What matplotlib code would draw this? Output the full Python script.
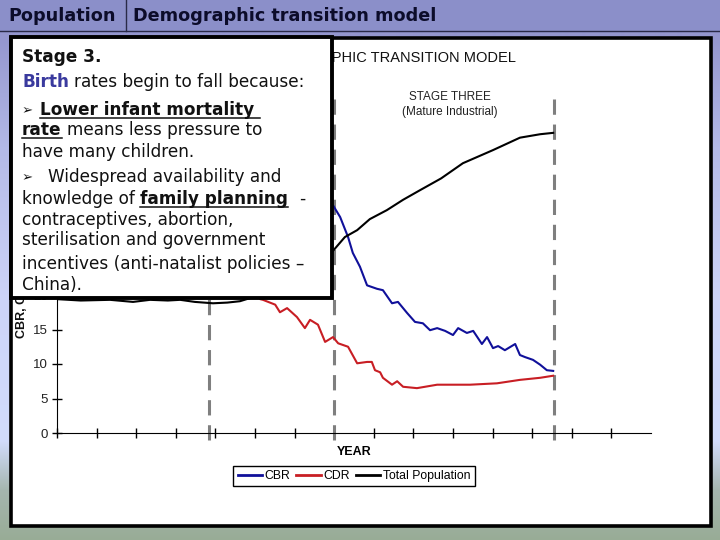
import numpy as np
import matplotlib
matplotlib.use("Agg")
from matplotlib import pyplot as plt
from matplotlib.patches import Rectangle
from matplotlib.lines import Line2D

plt.rcParams['font.family'] = ['Liberation Sans', 'DejaVu Sans']

# stage boundaries on the year axis (axis runs 0..15, no year labels shown)
stage_lines = [3.85, 7.0, 12.55]

# crude birth rate (per 1000)
cbr_x = [0, 0.5, 1.0, 1.5, 2.0, 2.5, 3.0, 3.5, 4.0, 4.5, 5.0, 5.5, 6.0, 6.5,
         6.97, 7.15, 7.35, 7.47, 7.65, 7.83, 8.08, 8.23, 8.46, 8.61, 8.84,
         9.04, 9.24, 9.42, 9.60, 9.80, 10.0, 10.13, 10.35, 10.51, 10.73,
         10.86, 11.01, 11.14, 11.31, 11.57, 11.69, 11.82, 12.02, 12.20,
         12.37, 12.53]
cbr = [37.5, 38.2, 36.8, 37.9, 37.0, 38.1, 36.9, 37.6, 37.2, 36.8, 36.9, 36.2,
       35.5, 34.4, 33.0, 31.3, 28.4, 26.1, 24.1, 21.4, 20.9, 20.7, 18.8, 19.0,
       17.4, 16.1, 15.9, 14.9, 15.2, 14.8, 14.2, 15.2, 14.5, 14.8, 12.9, 13.9,
       12.3, 12.6, 12.0, 12.9, 11.3, 11.0, 10.6, 9.9, 9.1, 9.0]

# crude death rate (per 1000)
cdr_x = [0, 0.5, 1.0, 1.5, 2.0, 2.5, 3.0, 3.5, 3.85, 4.2, 4.6, 4.9,
         5.13, 5.20, 5.51, 5.63, 5.81, 6.06, 6.26, 6.39, 6.59, 6.77, 6.97,
         7.10, 7.35, 7.58, 7.83, 7.95, 8.03, 8.16, 8.23, 8.46, 8.59, 8.74,
         9.09, 9.60, 10.43, 11.11, 11.69, 12.20, 12.53]
cdr = [35.0, 33.2, 36.1, 34.0, 35.6, 33.5, 35.2, 34.3, 33.8, 29.0, 24.5, 21.3,
       19.4, 19.3, 18.6, 17.5, 18.1, 16.8, 15.2, 16.4, 15.7, 13.2, 13.9,
       13.0, 12.5, 10.1, 10.3, 10.3, 9.1, 8.8, 8.0, 7.0, 7.5, 6.7,
       6.5, 7.0, 7.0, 7.2, 7.7, 8.0, 8.3]

# total population (relative)
pop_x = [0, 0.6, 1.34, 1.92, 2.35, 2.8, 3.11, 3.48, 3.94, 4.3, 4.62, 5.13,
         5.6, 6.1, 6.5, 6.97, 7.27, 7.58, 7.90, 8.33, 8.74, 9.17, 9.70,
         10.25, 11.01, 11.69, 12.2, 12.53]
pop = [19.4, 19.2, 19.3, 19.0, 19.3, 19.2, 19.3, 19.0, 18.8, 18.9, 19.1, 20.0,
       21.4, 23.2, 24.6, 26.4, 28.4, 29.4, 31.0, 32.3, 33.8, 35.2, 36.9,
       39.1, 41.0, 42.8, 43.3, 43.5]

series_names = ['CBR', 'CDR', 'Total Population']
series_colors = ['#10109a', '#c81e24', 'black']

fig = plt.figure(figsize=(7.2, 5.4), dpi=100)

# slide background, in pixel coordinates
bg = fig.add_axes([0, 0, 1, 1], zorder=-10)
bg.set_xlim(0, 720)
bg.set_ylim(540, 0)
bg.axis('off')
stop_y = [0, 36, 150, 300, 440, 490, 540]
stop_c = np.array([[148, 150, 206], [148, 150, 206], [180, 186, 232],
                   [205, 212, 248], [210, 220, 252], [165, 182, 175],
                   [152, 172, 150]]) / 255.0
rows = np.arange(540)
grad = np.stack([np.interp(rows, stop_y, stop_c[:, k]) for k in range(3)], axis=1)
bg.imshow(np.repeat(grad[:, None, :], 2, axis=1), extent=(0, 720, 540, 0),
          aspect='auto', interpolation='bilinear')
bg.add_patch(Rectangle((0, 0), 720, 30.5, color='#8b8fc9'))
bg.plot([0, 720], [30.5, 30.5], color='#2a2a48', lw=1)
bg.plot([126, 126], [0, 30.5], color='#2a2a48', lw=1)
bg.text(8, 21, 'Population', fontweight='bold', fontsize=12.7, color='#0c0c2a',
        family='DejaVu Sans', va='baseline')
bg.text(133, 21, 'Demographic transition model', fontweight='bold',
        fontsize=12.7, color='#0c0c2a', family='DejaVu Sans', va='baseline')
bg.add_patch(Rectangle((10.5, 37.5), 700, 488, fc='white', ec='black', lw=2.6))
bg.text(516, 62, 'DEMOGRAPHIC TRANSITION MODEL', ha='right', va='baseline',
        fontsize=10.5, color='#111111')
bg.text(22, 338, 'CBR, CDR (per 1000)', rotation=90, rotation_mode='anchor',
        ha='left', va='center', fontweight='bold', fontsize=9, color='#111111')

# the chart
ax = fig.add_axes([57 / 720, 107 / 540, 594 / 720, 345 / 540])
ax.patch.set_alpha(0)
ax.set_xlim(0, 15)
ax.set_ylim(0, 50)
for s in stage_lines:
    ax.plot([s, s], [-1, 49.5], color='#7f7f7f', lw=2.2, dashes=(5, 3.2),
            clip_on=False)
ax.plot(cbr_x, cbr, color=series_colors[0], lw=1.5)
ax.plot(cdr_x, cdr, color=series_colors[1], lw=1.5)
ax.plot(pop_x, pop, color=series_colors[2], lw=1.5)
ax.spines['top'].set_visible(False)
ax.spines['right'].set_visible(False)
ax.set_xticks(np.arange(15))
ax.set_xticklabels([])
ax.set_yticks(np.arange(0, 51, 5))
ax.tick_params(axis='x', direction='inout', length=7, width=1)
ax.tick_params(axis='y', direction='inout', length=7, width=1, labelsize=9.5,
               pad=3, labelcolor='#222222')
ax.text(9.93, 48.7, 'STAGE THREE', ha='center', va='center', fontsize=8.5,
        color='#222222')
ax.text(9.93, 46.5, '(Mature Industrial)', ha='center', va='center',
        fontsize=8.5, color='#222222')
ax.set_xlabel('YEAR', fontweight='bold', fontsize=9)
ax.xaxis.set_label_coords(0.5, -0.037)

handles = [Line2D([], [], color=c, lw=2) for c in series_colors]
leg = fig.legend(handles, series_names, loc='center',
                 bbox_to_anchor=(354 / 720, 1 - 476 / 540), ncol=3,
                 fancybox=False, edgecolor='black', framealpha=1, fontsize=8.8,
                 handlelength=2.0, handletextpad=0.2, columnspacing=0.5,
                 borderpad=0.35, borderaxespad=0)
leg.get_frame().set_linewidth(1.0)

# text box laid over the chart
over = fig.add_axes([0, 0, 1, 1], zorder=10)
over.set_xlim(0, 720)
over.set_ylim(540, 0)
over.axis('off')
over.add_patch(Rectangle((10.5, 37), 321, 261, fc='white', ec='black', lw=2.8))

FS = 12.2
ink = '#111111'
styles = {
    'n': dict(fontsize=FS, color=ink),
    'b': dict(fontsize=FS, color=ink, fontweight='bold'),
    'bu': dict(fontsize=FS, color=ink, fontweight='bold'),
    'blue': dict(fontsize=FS, color='#3a3a9e', fontweight='bold'),
    'bullet': dict(fontsize=9.5, color=ink),
}
box_lines = [
    (62, [('Stage 3.', 'b')]),
    (87, [('Birth', 'blue'), (' rates begin to fall because:', 'n')]),
    (115, [('➢', 'bullet', 22), ('Lower infant mortality ', 'bu', 40)]),
    (135, [('rate', 'bu'), (' means less pressure to', 'n')]),
    (157, [('have many children.', 'n')]),
    (182, [('➢', 'bullet', 22), ('Widespread availability and', 'n', 48)]),
    (204, [('knowledge of ', 'n'), ('family planning', 'bu'), ('  -', 'n')]),
    (225, [('contraceptives, abortion,', 'n')]),
    (245, [('sterilisation and government', 'n')]),
    (269, [('incentives (anti-natalist policies –', 'n')]),
    (290, [('China).', 'n')]),
]

r = fig.canvas.get_renderer()


def width_of(s, st):
    t = over.text(0, 0, s, family='DejaVu Sans', **st)
    w = t.get_window_extent(r).width
    t.remove()
    return w


space = {k: width_of('n n', st) - width_of('nn', st) for k, st in styles.items()}

for yb, segs in box_lines:
    x = 22
    for seg in segs:
        s, kind = seg[0], seg[1]
        if len(seg) > 2:
            x = seg[2]
        st = styles[kind]
        core = s.strip(' ')
        lead = len(s) - len(s.lstrip(' '))
        trail = len(s) - len(s.rstrip(' '))
        x += lead * space[kind]
        yy = yb - 1 if kind == 'bullet' else yb
        t = over.text(x, yy, core, family='DejaVu Sans', va='baseline',
                      zorder=20, **st)
        w = t.get_window_extent(r).width
        if kind == 'bu':
            over.plot([x, x + w + trail * space[kind]], [yb + 2.5, yb + 2.5],
                      color=ink, lw=1.1, zorder=20)
        x += w + trail * space[kind]

fig.savefig('out.png', dpi=100)
